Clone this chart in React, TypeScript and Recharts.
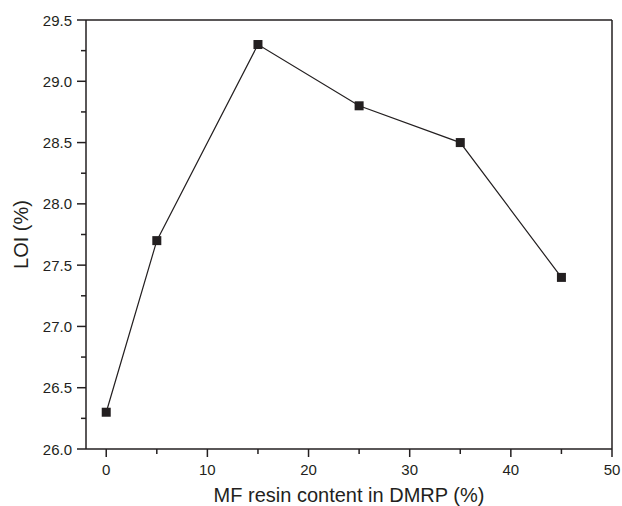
import { LineChart, Line, XAxis, YAxis, ReferenceLine } from 'recharts'

const mfContent = [0, 5, 15, 25, 35, 45]
const loiValues = [26.3, 27.7, 29.3, 28.8, 28.5, 27.4]
const xTicks = [0, 5, 10, 15, 20, 25, 30, 35, 40, 45, 50]
const yTicks = [26, 26.25, 26.5, 26.75, 27, 27.25, 27.5, 27.75, 28, 28.25, 28.5, 28.75, 29, 29.25, 29.5]

const data = mfContent.map((x, i) => ({ x, loi: loiValues[i] }))

const INK = '#231f20'
const FONT = '"Liberation Sans", Arial, sans-serif'

function XTick(props: any) {
  const { x, y, payload } = props
  const major = payload.value % 10 === 0
  return (
    <g>
      <line x1={x} x2={x} y1={y} y2={y + (major ? 8 : 5)} stroke={INK} strokeWidth={1.5} />
      {major && (
        <text x={x} y={y + 26} textAnchor="middle" fontSize={15} fontFamily={FONT} fill={INK}>
          {payload.value}
        </text>
      )}
    </g>
  )
}

function YTick(props: any) {
  const { x, y, payload } = props
  const major = Number.isInteger(payload.value * 2)
  return (
    <g>
      <line x1={x} x2={x - (major ? 9 : 5)} y1={y} y2={y} stroke={INK} strokeWidth={1.5} />
      {major && (
        <text x={x - 14} y={y + 5.5} textAnchor="end" fontSize={15} fontFamily={FONT} fill={INK}>
          {payload.value.toFixed(1)}
        </text>
      )}
    </g>
  )
}

function SquareDot(props: any) {
  const { cx, cy, index } = props
  if (cx == null || cy == null) return <g key={index} />
  return <rect key={index} x={cx - 4.5} y={cy - 4.5} width={9} height={9} fill={INK} />
}

function YTitle(props: any) {
  const vb = props.viewBox
  const cx = vb.x + 28
  const cy = vb.y + vb.height / 2
  return (
    <text x={cx} y={cy} transform={`rotate(-90, ${cx}, ${cy})`} textAnchor="middle" fontSize={20} fontFamily={FONT} fill={INK}>
      LOI (%)
    </text>
  )
}

export default function App() {
  return (
    <div style={{ position: 'absolute', left: 0, top: 0, width: 622, height: 506, background: '#fff' }}>
      <LineChart width={622} height={506} data={data} margin={{ top: 20, right: 10, left: 0, bottom: 0 }}>
        <XAxis
          dataKey="x"
          type="number"
          domain={[-2, 50]}
          ticks={xTicks}
          interval={0}
          height={57}
          tickSize={0}
          tickMargin={0}
          tickLine={false}
          axisLine={{ stroke: INK, strokeWidth: 1.5 }}
          tick={<XTick />}
          label={{ value: 'MF resin content in DMRP (%)', position: 'insideBottom', offset: 4, fontSize: 20, fontFamily: FONT, fill: INK }}
        />
        <YAxis
          type="number"
          domain={[26, 29.5]}
          ticks={yTicks}
          interval={0}
          width={86}
          tickSize={0}
          tickMargin={0}
          tickLine={false}
          axisLine={{ stroke: INK, strokeWidth: 1.5 }}
          tick={<YTick />}
          label={{ content: YTitle }}
        />
        <ReferenceLine y={29.5} stroke={INK} strokeWidth={1.5} />
        <ReferenceLine x={50} stroke={INK} strokeWidth={1.5} />
        <Line
          type="linear"
          dataKey="loi"
          stroke={INK}
          strokeWidth={1.2}
          dot={SquareDot}
          activeDot={false}
          isAnimationActive={false}
        />
      </LineChart>
    </div>
  )
}
